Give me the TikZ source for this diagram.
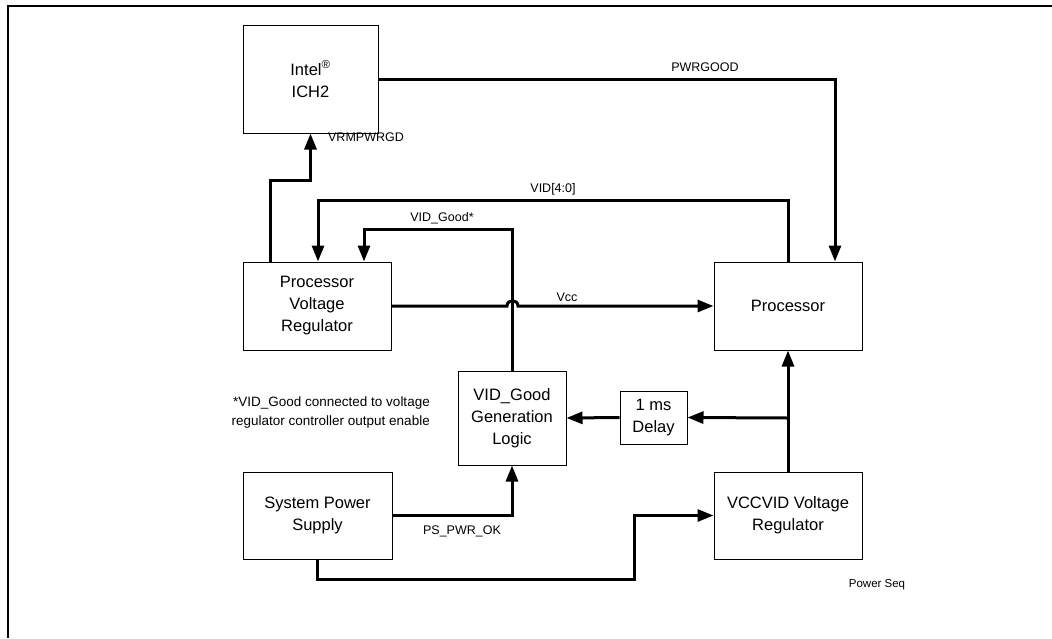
\documentclass[tikz,border=0pt]{standalone}
\usepackage{fontspec}
\setmainfont{Liberation Sans}
\usetikzlibrary{arrows.meta}
\begin{document}
\begin{tikzpicture}[x=1pt,y=-1pt,
  box/.style={draw,line width=1pt,inner sep=0pt,align=center,font=\fontsize{16.5}{22}\selectfont},
  wire/.style={line width=3pt},
  arr/.style={wire,-{Triangle[length=16pt,width=12pt]}},
  lbl/.style={font=\fontsize{12.5}{14}\selectfont,inner sep=0pt}]
\useasboundingbox (0,0) rectangle (1052,638);
\draw[line width=2pt] (1052,6) -- (8,6) -- (8,638);
% boxes
\node[box,minimum width=135pt,minimum height=108pt] (ich) at (310.5,79) {Intel\textsuperscript{®}\\ICH2};
\node[box,minimum width=148pt,minimum height=88pt] (pvr) at (317,306) {Processor\\Voltage\\Regulator};
\node[box,minimum width=148pt,minimum height=88pt] (proc) at (788,306) {Processor};
\node[box,minimum width=108pt,minimum height=94pt] (vg) at (512,418) {VID\_Good\\Generation\\Logic};
\node[box,minimum width=67pt,minimum height=53pt] (dly) at (653.5,417.5) {1 ms\\Delay};
\node[box,minimum width=149pt,minimum height=87pt] (sps) at (317.5,515.5) {System Power\\Supply};
\node[box,minimum width=148pt,minimum height=87pt] (vcc) at (788,515.5) {VCCVID Voltage\\Regulator};
% bend points
\coordinate (c1) at (310.5,180);
\coordinate (c2) at (318,200);
\coordinate (c3) at (364,229);
\coordinate (h1) at (507,306);
\coordinate (h2) at (518,306);
\coordinate (j) at (788,418);
\coordinate (c4) at (634,579);
% connectors
\draw[arr] (ich.east) -| ([xshift=47pt]proc.north);
\draw[arr] ([xshift=-47pt]pvr.north) |- (c1) -- (ich.south);
\draw[arr] (proc.north) |- (c2) -- (c2 |- pvr.north);
\draw[arr] (vg.north) |- (c3) -- (c3 |- pvr.north);
\draw[arr] (pvr.east) -- (h1) .. controls (507,299) and (518,299) .. (h2) -- (proc.west);
\draw[arr] (vcc.north) -- (proc.south);
\draw[arr] (j) -- (dly.east);
\draw[arr] (dly.west) -- (vg.east);
\draw[arr] (sps.east) -| (vg.south);
\draw[arr] (sps.south) |- (c4) |- (vcc.west);
% labels
\node[lbl] (l1) at (705,67) {PWRGOOD};
\node[lbl] (l2) at (366,137) {VRMPWRGD};
\node[lbl] (l3) at (553,189) {VID[4:0]};
\node[lbl] (l4) at (442,218) {VID\_Good*};
\node[lbl] (l5) at (567,297) {Vcc};
\node[lbl] (l6) at (462,531) {PS\_PWR\_OK};
\node[lbl,font=\fontsize{11.5}{13}\selectfont] (l7) at (877,585) {Power Seq};
\node[inner sep=0pt,align=right,anchor=east,font=\fontsize{13.5}{19}\selectfont] (note) at (430,412.5) {*VID\_Good connected to voltage\\regulator controller output enable};
\end{tikzpicture}
\end{document}
